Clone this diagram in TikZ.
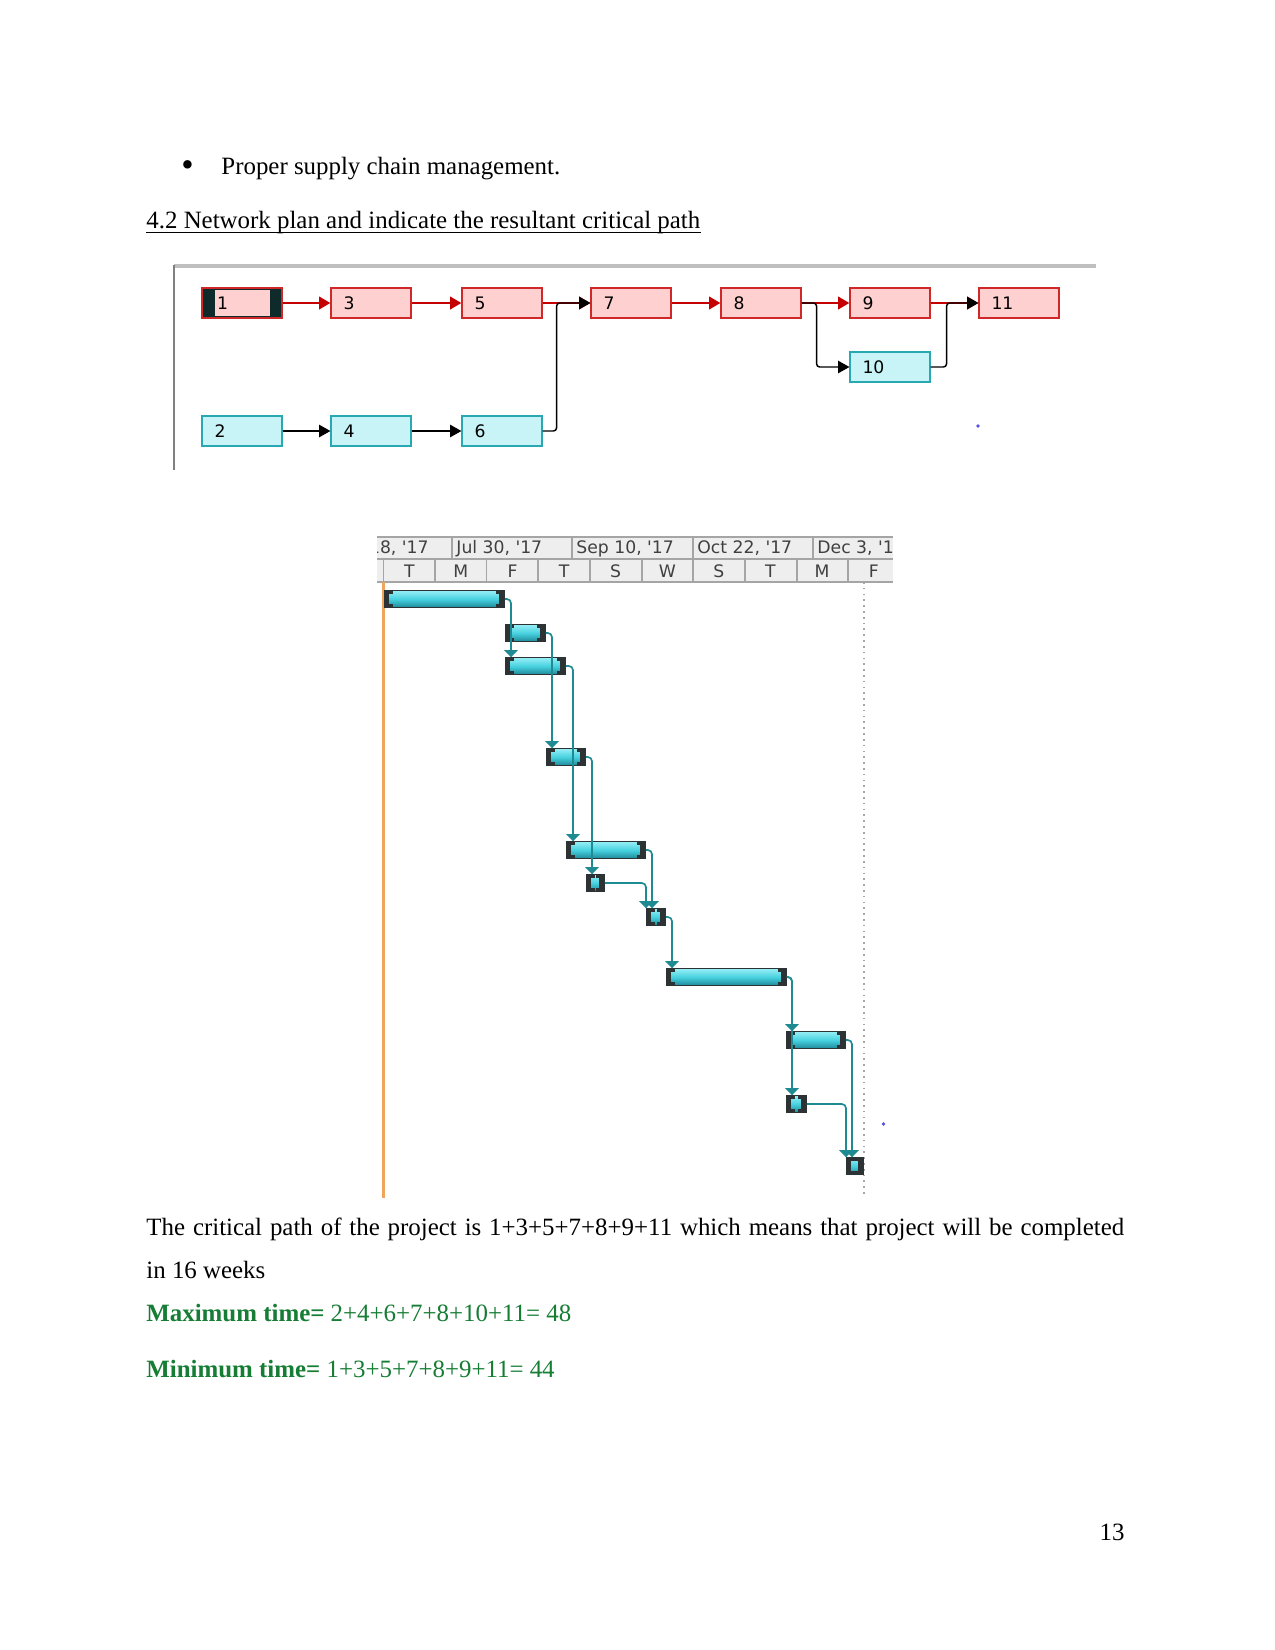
\documentclass[tikz,border=0pt]{standalone}
\usepackage{fontspec}
\setmainfont{Liberation Serif}
\newfontfamily\uifont{DejaVu Sans}
\usepackage{xcolor}
\usepackage{tikz}
\usetikzlibrary{arrows.meta,calc}

\definecolor{critfill}{RGB}{255,208,208}
\definecolor{critline}{RGB}{208,40,40}
\definecolor{critred}{RGB}{196,0,0}
\definecolor{normfill}{RGB}{200,244,248}
\definecolor{normline}{RGB}{40,168,176}
\definecolor{seldark}{RGB}{14,42,42}
\definecolor{linkteal}{RGB}{30,138,146}
\definecolor{barlight}{RGB}{150,238,246}
\definecolor{barmid}{RGB}{72,210,224}
\definecolor{bardark}{RGB}{30,138,154}
\definecolor{capgray}{RGB}{45,50,52}
\definecolor{headfill}{RGB}{238,238,238}
\definecolor{headline}{RGB}{165,165,165}
\definecolor{todayorange}{RGB}{240,165,90}
\definecolor{textgreen}{RGB}{22,125,52}
\definecolor{dotblue}{RGB}{90,80,230}

\newcommand{\yr}{\textquotesingle17}

\begin{document}
\begin{tikzpicture}[
    x=0.016933cm, y=-0.016933cm,
    body/.style={anchor=base west, inner sep=0pt, font=\fontsize{12}{14}\selectfont},
    critbox/.style={
        rectangle,
        draw=critline,
        fill=critfill,
        line width=0.6pt,
        minimum width=38.5pt,
        minimum height=14.5pt,
        text width=26.5pt,
        inner xsep=6pt,
        inner ysep=0pt,
        align=left,
        font=\uifont\fontsize{8.3}{9}\selectfont
    },
    normbox/.style={critbox, draw=normline, fill=normfill},
    critarr/.style={-{Triangle[length=5.5pt,width=6pt]}, critred, line width=1.3pt},
    normarr/.style={-{Triangle[length=5.5pt,width=6pt]}, black, line width=0.7pt, rounded corners=1.5pt},
    hdr/.style={inner sep=0pt, font=\uifont\fontsize{8.3}{9}\selectfont, text=black!75},
    ganttbar/.style={
        rectangle,
        draw=capgray,
        line width=0.4pt,
        minimum height=8pt,
        inner sep=0pt,
        anchor=west,
        top color=barlight, bottom color=bardark, middle color=barmid,
        path picture={
            \fill[capgray] (path picture bounding box.south west) rectangle ([xshift=2.4pt]path picture bounding box.north west);
            \fill[capgray] ([xshift=-2.4pt]path picture bounding box.south east) rectangle (path picture bounding box.north east);
            \fill[capgray] ([xshift=2.3pt]path picture bounding box.north west) rectangle ([xshift=4.2pt,yshift=-1.4pt]path picture bounding box.north west);
            \fill[capgray] ([xshift=2.3pt]path picture bounding box.south west) rectangle ([xshift=4.2pt,yshift=1.4pt]path picture bounding box.south west);
            \fill[capgray] ([xshift=-2.3pt]path picture bounding box.north east) rectangle ([xshift=-4.2pt,yshift=-1.4pt]path picture bounding box.north east);
            \fill[capgray] ([xshift=-2.3pt]path picture bounding box.south east) rectangle ([xshift=-4.2pt,yshift=1.4pt]path picture bounding box.south east);
        }
    },
    ganttlink/.style={-{Triangle[length=3.4pt,width=6.4pt]}, linkteal, line width=0.8pt, rounded corners=2pt}
]
\fill[white] (0,0) rectangle (1275,1650);
\useasboundingbox (0,0) rectangle (1275,1650);

\node[body, font=\fontsize{17}{17}\selectfont] (bullet) at (181,176) {\textbullet};
\node[body] (supply) at (221,174) {Proper supply chain management.};
\node[body] (heading) at (146,228) {4.2 Network plan and indicate the resultant critical path};
\draw[line width=0.6pt] ([yshift=-2.3pt]heading.base west) -- ([yshift=-2.3pt]heading.base east);

\draw[gray!50, line width=2pt] (174,266) -- (1096,266);
\draw[gray, line width=0.6pt] (174,265) -- (174,470);

\node[critbox, fill=seldark] (n1) at (242,303) {};
\node[fill=critfill, inner xsep=1pt, inner ysep=0pt, minimum height=12.4pt, text width=24.5pt, align=left, font=\uifont\fontsize{8.3}{9}\selectfont] (n1in) at (242.5,303) {1};
\node[critbox] (n3) at (371,303) {3};
\node[critbox] (n5) at (502,303) {5};
\node[critbox] (n7) at (631,303) {7};
\node[critbox] (n8) at (761,303) {8};
\node[critbox] (n9) at (890,303) {9};
\node[critbox] (n11) at (1019,303) {11};
\node[normbox] (n10) at (890,367) {10};
\node[normbox] (n2) at (242,431) {2};
\node[normbox] (n4) at (371,431) {4};
\node[normbox] (n6) at (502,431) {6};

\draw[critarr] (n1) -- (n3);
\draw[critarr] (n3) -- (n5);
\draw[critarr] (n5) -- (n7);
\draw[critarr] (n7) -- (n8);
\draw[critarr] (n8) -- (n9);
\draw[critarr] (n9) -- (n11);
\draw[normarr] (n2) -- (n4);
\draw[normarr] (n4) -- (n6);
\draw[normarr] (n6.east) -- ++(14,0) |- (n7.west);
\draw[normarr] (n8.east) -- ++(15,0) |- (n10.west);
\draw[normarr] (n10.east) -- ++(16,0) |- (n11.west);

\fill[dotblue] (978,426) circle (0.9pt);

\fill[headfill] (377,537) rectangle (893,582);
\draw[headline, line width=0.5pt] (377,537) -- (893,537);
\draw[headline, line width=0.5pt] (377,559) -- (893,559);
\draw[headline, line width=0.8pt] (377,582) -- (893,582);
\foreach \sx in {452,572,693,813}
    \draw[headline, line width=0.6pt] (\sx,537) -- (\sx,559);
\foreach \sx in {383.5,435,486.5,538,590,642,693,745,797,848}
    \draw[headline, line width=0.6pt] (\sx,559) -- (\sx,582);
\begin{scope}
    \clip (377,537) rectangle (893,582);
    \node[hdr, anchor=east] (wk0) at (429,548.5) {18, \yr};
    \node[hdr, anchor=west] (wk1) at (456,548.5) {Jul 30, \yr};
    \node[hdr, anchor=west] (wk2) at (576,548.5) {Sep 10, \yr};
    \node[hdr, anchor=west] (wk3) at (697,548.5) {Oct 22, \yr};
    \node[hdr, anchor=west] (wk4) at (817,548.5) {Dec 3, \yr};
    \foreach \d [count=\i from 0] in {T,M,F,T,S,W,S,T,M,F}
        \node[hdr] (day\i) at ({409.3+51.6*\i},571) {\d};
\end{scope}

\draw[todayorange, line width=1pt] (383.5,582) -- (383.5,1198);
\draw[gray!70, dotted, line width=0.8pt] (864,582) -- (864,1196);

\foreach \nm/\xa/\xb/\yy in {b1/384/504/599, b2/505/545/633, b3/505/565/666,
    b4/546/585/757, b5/566/645/850, b6/586/604/883, b7/646/665/917,
    b8/666/786/977, b9/786/845/1040, b10/786/806/1104, b11/846/863/1166}
    \node[ganttbar, minimum width={(\xb-\xa)*0.4818pt}] (\nm) at (\xa,\yy) {};

\foreach \src/\dst/\off in {b1/b3/6, b2/b4/6, b3/b5/7, b4/b6/6, b5/b7/6, b6/b7/0,
    b7/b8/6, b8/b9/6, b8/b10/6, b9/b11/6, b10/b11/0}
    \draw[ganttlink] (\src.east) -| ($(\dst.north west)+(\off,0)$);

\fill[dotblue] (883.5,1124) circle (0.9pt);

\node[body] (critpath) at (146,1235) {\makebox[16.56cm][s]{The critical path of the project is 1+3+5+7+8+9+11 which means that project will be completed}};
\node[body] (weeks) at (146,1278) {in 16 weeks};
\node[body, text=textgreen] (maxtime) at (146,1321) {\textbf{Maximum time=} 2+4+6+7+8+10+11= 48};
\node[body, text=textgreen] (mintime) at (146,1377) {\textbf{Minimum time=} 1+3+5+7+8+9+11= 44};
\node[body, anchor=base east] (pagenum) at (1125,1540) {13};

\end{tikzpicture}
\end{document}
